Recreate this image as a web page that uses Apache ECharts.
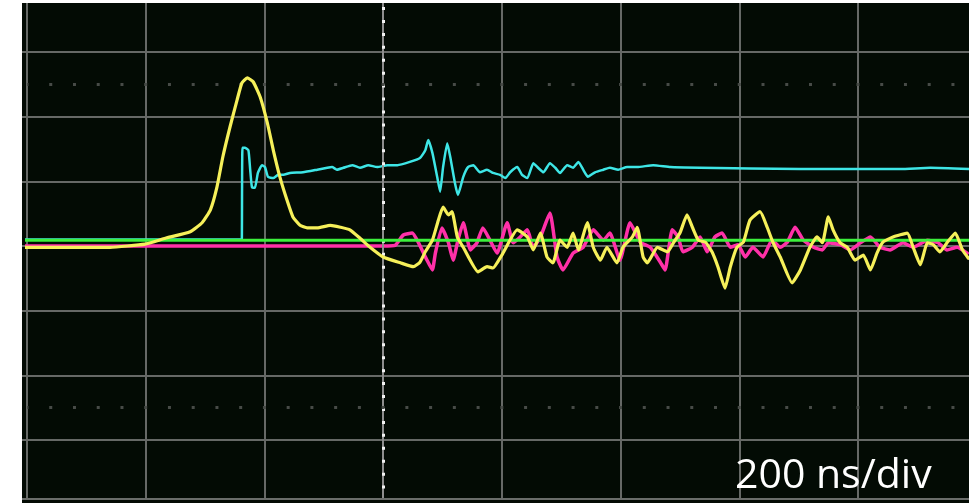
<!DOCTYPE html>
<html>
<head>
<meta charset="utf-8">
<script src="https://cdn.jsdelivr.net/npm/echarts@6/dist/echarts.min.js"></script>
<style>
  html, body { margin: 0; padding: 0; background: #ffffff; }
  #scope { width: 977px; height: 503px; }
</style>
</head>
<body>
<div id="scope"></div>
<script>
// Captured waveforms: time in ns (0 = trigger / centre graticule line),
// amplitude in vertical divisions relative to the centre line.
const greenTrace = [
  [-608, 0.09], [-300, 0.09], [0, 0.09], [300, 0.09], [600, 0.09], [987, 0.09]
];

const magentaTrace = [
  [-608, 0.0], [-300, 0.0], [0, 0.0], [20, 0.01], [34, 0.17], [49, 0.20], [59, 0.06],
  [74, -0.22], [83, -0.37], [88, -0.11], [99, 0.28], [110, 0.05], [118, -0.22],
  [126, 0.09], [135, 0.36], [147, -0.06], [158, 0.05], [168, 0.28], [180, 0.09],
  [192, -0.11], [209, 0.36], [219, 0.05], [231, 0.14], [243, 0.25], [253, -0.02],
  [265, 0.14], [281, 0.51], [293, -0.17], [303, -0.37], [320, -0.11], [337, -0.02],
  [354, 0.25], [371, 0.09], [382, 0.20], [399, -0.22], [416, 0.36], [433, 0.06],
  [450, -0.02], [467, -0.25], [475, -0.37], [487, 0.25], [497, 0.14], [505, -0.09],
  [521, -0.02], [534, 0.14], [546, -0.09], [559, 0.14], [571, 0.20], [585, -0.02],
  [598, 0.02], [610, -0.17], [623, -0.02], [640, -0.17], [655, 0.09], [669, -0.02],
  [681, 0.06], [694, 0.29], [708, 0.09], [725, -0.02], [740, -0.06], [750, 0.05],
  [770, 0.02], [787, -0.06], [804, 0.05], [821, 0.14], [837, -0.02], [854, -0.06],
  [876, 0.05], [893, -0.02], [917, 0.09], [935, 0.05], [950, -0.06], [967, -0.02],
  [984, -0.11]
];

const cyanTrace = [
  [-608, 0.10], [-400, 0.10], [-239, 0.10], [-238, 0.12], [-237, 1.52], [-233, 1.52],
  [-227, 1.48], [-224, 1.18], [-221, 0.91], [-216, 0.90], [-211, 1.13], [-204, 1.25],
  [-199, 1.22], [-194, 1.07], [-185, 1.05], [-177, 1.10], [-168, 1.10], [-157, 1.13],
  [-135, 1.14], [-111, 1.18], [-94, 1.21], [-86, 1.22], [-78, 1.18], [-67, 1.21],
  [-52, 1.25], [-39, 1.21], [-25, 1.25], [-10, 1.22], [7, 1.25], [24, 1.25],
  [45, 1.30], [62, 1.36], [71, 1.48], [76, 1.64], [83, 1.44], [91, 1.07], [96, 0.84],
  [101, 1.22], [108, 1.59], [113, 1.38], [121, 0.97], [126, 0.79], [135, 1.07],
  [143, 1.22], [152, 1.25], [163, 1.14], [175, 1.18], [185, 1.13], [197, 1.10],
  [206, 1.05], [214, 1.14], [226, 1.22], [234, 1.10], [243, 1.05], [253, 1.28],
  [261, 1.21], [270, 1.14], [281, 1.28], [290, 1.21], [298, 1.13], [310, 1.25],
  [320, 1.21], [329, 1.30], [337, 1.18], [345, 1.07], [357, 1.14], [371, 1.18],
  [382, 1.21], [396, 1.18], [411, 1.22], [428, 1.22], [455, 1.25], [484, 1.22],
  [534, 1.21], [703, 1.19], [871, 1.19], [922, 1.21], [987, 1.19]
];

const yellowTrace = [
  [-608, -0.02], [-544, -0.02], [-460, -0.02], [-401, 0.03], [-367, 0.12], [-325, 0.22],
  [-305, 0.36], [-291, 0.56], [-280, 0.91], [-270, 1.38], [-258, 1.84], [-246, 2.26],
  [-238, 2.52], [-229, 2.60], [-219, 2.54], [-207, 2.30], [-195, 1.90], [-185, 1.48],
  [-174, 1.07], [-162, 0.71], [-152, 0.45], [-140, 0.32], [-128, 0.28], [-111, 0.28],
  [-89, 0.32], [-72, 0.29], [-56, 0.25], [-39, 0.12], [-22, -0.02], [0, -0.17],
  [29, -0.26], [51, -0.32], [62, -0.25], [71, -0.09], [83, 0.09], [93, 0.40],
  [101, 0.60], [110, 0.48], [116, 0.53], [125, 0.14], [135, -0.02], [160, -0.40],
  [175, -0.32], [185, -0.34], [200, -0.14], [226, 0.25], [243, 0.14], [253, -0.06],
  [265, 0.20], [276, -0.17], [286, -0.26], [298, 0.09], [310, -0.02], [320, 0.20],
  [329, -0.06], [344, 0.36], [354, -0.02], [366, -0.22], [377, -0.02], [394, -0.26],
  [404, -0.02], [420, 0.14], [428, 0.29], [438, -0.17], [445, -0.26], [462, -0.02],
  [479, -0.09], [489, 0.05], [500, 0.20], [512, 0.48], [521, 0.29], [531, 0.09],
  [543, 0.06], [554, -0.09], [564, -0.32], [576, -0.65], [585, -0.32], [596, -0.02],
  [607, 0.06], [618, 0.40], [635, 0.53], [647, 0.29], [657, 0.05], [669, -0.17],
  [689, -0.57], [703, -0.37], [719, -0.02], [731, 0.14], [740, 0.05], [750, 0.45],
  [758, 0.25], [770, 0.05], [782, -0.02], [795, -0.22], [809, -0.14], [821, -0.37],
  [832, -0.11], [842, 0.06], [859, 0.14], [883, 0.20], [893, -0.02], [905, -0.29],
  [917, 0.05], [927, 0.02], [938, -0.09], [950, 0.05], [964, 0.20], [976, -0.06],
  [986, -0.19]
];

const timebaseLabel = '200 ns/div';

// Graticule: 200 ns per horizontal division, 1 unit per vertical division
const NS_PER_DIV = 200;
const SUB_TICKS = 5;
const DIV_W = 118.71;   // px per horizontal division
const DIV_H = 64.67;    // px per vertical division

const chart = echarts.init(document.getElementById('scope'), null, { renderer: 'canvas' });

const hidden = {
  axisLine: { show: false },
  axisTick: { show: false },
  axisLabel: { show: false }
};
const gridLine = { show: true, lineStyle: { color: '#666966', width: 2 } };

function trace(name, data, color, width, z) {
  return {
    name: name,
    type: 'line',
    xAxisIndex: 0,
    yAxisIndex: 0,
    data: data,
    showSymbol: false,
    symbol: 'none',
    smooth: 0.15,
    clip: false,
    z: z,
    silent: true,
    lineStyle: { color: color, width: width, cap: 'round', join: 'round' }
  };
}

// centre time marker and the dotted half-division rows
const graticule = {
  name: 'graticule',
  type: 'line',
  xAxisIndex: 0,
  yAxisIndex: 0,
  data: [],
  z: 1,
  silent: true,
  markLine: {
    silent: true,
    symbol: 'none',
    animation: false,
    label: { show: false },
    data: [
      { xAxis: 0, lineStyle: { color: '#8e8e8e', width: 2, type: 'solid' } },
      { xAxis: 0, lineStyle: { color: '#f2f2f2', width: 3, type: [3, DIV_H / SUB_TICKS - 3], dashOffset: 1.5 } },
      { yAxis: 2.5, lineStyle: { color: '#474b47', width: 3, type: [3, DIV_W / SUB_TICKS - 3], dashOffset: 1.5 } },
      { yAxis: -2.5, lineStyle: { color: '#474b47', width: 3, type: [3, DIV_W / SUB_TICKS - 3], dashOffset: 1.5 } }
    ]
  }
};

// horizontal graticule rows live on their own grid
const rowCarrier = {
  name: 'rows',
  type: 'line',
  xAxisIndex: 1,
  yAxisIndex: 1,
  data: [],
  silent: true
};

const option = {
  backgroundColor: '#030b04',
  animation: false,
  grid: [
    // traces + vertical division lines (full screen height)
    { left: 27, right: 0.3, top: 3, bottom: 3, show: false },
    // horizontal division lines, centre row at 246 px
    { left: 22, right: 8, top: 52, bottom: 63, show: false }
  ],
  xAxis: [
    Object.assign({
      type: 'value', gridIndex: 0, min: -3 * NS_PER_DIV, max: 5 * NS_PER_DIV, interval: NS_PER_DIV,
      splitLine: gridLine
    }, hidden),
    Object.assign({
      type: 'value', gridIndex: 1, min: 0, max: 1, splitLine: { show: false }
    }, hidden)
  ],
  yAxis: [
    Object.assign({
      type: 'value', gridIndex: 0, min: -254 / DIV_H, max: 243 / DIV_H,
      splitLine: { show: false }
    }, hidden),
    Object.assign({
      type: 'value', gridIndex: 1, min: -3, max: 3, interval: 1,
      splitLine: gridLine
    }, hidden)
  ],
  title: {
    text: timebaseLabel,
    left: 735,
    top: 456,
    padding: 0,
    textStyle: { color: '#ffffff', fontSize: 41, fontWeight: 'normal', fontFamily: 'Open Sans' }
  },
  graphic: [
    { type: 'rect', left: 0, top: 0, z: 100, shape: { width: 22, height: 503 }, style: { fill: '#ffffff' } },
    { type: 'rect', left: 969, top: 0, z: 100, shape: { width: 8, height: 503 }, style: { fill: '#ffffff' } },
    { type: 'rect', left: 22, top: 0, z: 100, shape: { width: 947, height: 3 }, style: { fill: '#ffffff' } },
    { type: 'rect', left: 22, top: 498, z: 99, shape: { width: 947, height: 2 }, style: { fill: '#6a6d6a' } }
  ],
  series: [
    rowCarrier,
    graticule,
    trace('CH3', magentaTrace, '#ff30a8', 3.5, 3),
    trace('CH2', cyanTrace, '#3ee6e6', 2.5, 4),
    trace('CH4', greenTrace, '#3cf03c', 3, 5),
    trace('CH1', yellowTrace, '#f6f05a', 3.2, 6)
  ]
};

chart.setOption(option);
</script>
</body>
</html>
